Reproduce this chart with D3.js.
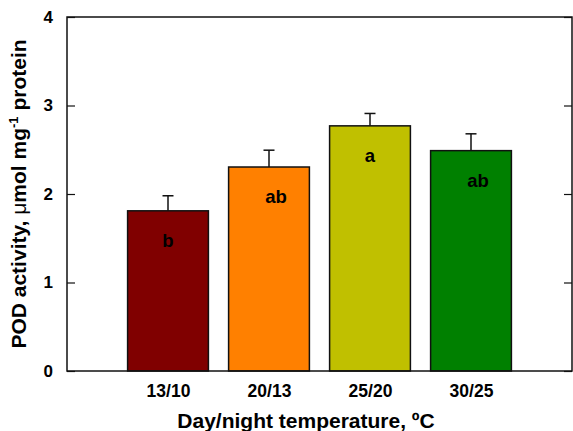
<!DOCTYPE html>
<html>
<head>
<meta charset="utf-8">
<script src="https://cdnjs.cloudflare.com/ajax/libs/d3/7.8.5/d3.min.js"></script>
<style>
  body { margin: 0; background: #fff; }
  svg { font-family: "Liberation Sans", Arial, sans-serif; font-weight: bold; }
</style>
</head>
<body>
<div id="chart"></div>
<script>
// data
var categories = ["13/10", "20/13", "25/20", "30/25"];
var values = [1.81, 2.305, 2.77, 2.49];
var errors = [0.17, 0.19, 0.14, 0.19];
var letters = ["b", "ab", "a", "ab"];
var colors = ["#800000", "#ff8000", "#c0c000", "#008000"];
var yTicks = [0, 1, 2, 3, 4];

var width = 573, height = 431;
var margin = {top: 17, right: 1, bottom: 60, left: 67};

var svg = d3.select("#chart").append("svg")
    .attr("width", width)
    .attr("height", height);

var x = d3.scaleLinear().domain([0, 5]).range([margin.left, width - margin.right]);
var y = d3.scaleLinear().domain([0, 4]).range([height - margin.bottom, margin.top]);
var slot = x(1) - x(0);
var bw = slot * 0.8;

// bars
svg.selectAll("rect.bar")
  .data(values)
  .join("rect")
    .attr("class", "bar")
    .attr("x", function(d, i) { return x(i + 1) - bw / 2; })
    .attr("y", function(d) { return y(d); })
    .attr("width", bw)
    .attr("height", function(d) { return y(0) - y(d); })
    .attr("fill", function(d, i) { return colors[i]; })
    .attr("stroke", "#111")
    .attr("stroke-width", 1.5);

// error bars (upper only)
var eb = svg.selectAll("g.err").data(values).join("g").attr("class", "err")
    .attr("stroke", "#111").attr("stroke-width", 1.5);
eb.append("line")
    .attr("x1", function(d, i) { return x(i + 1); })
    .attr("x2", function(d, i) { return x(i + 1); })
    .attr("y1", function(d) { return y(d); })
    .attr("y2", function(d, i) { return y(d + errors[i]); });
eb.append("line")
    .attr("x1", function(d, i) { return x(i + 1) - 5.5; })
    .attr("x2", function(d, i) { return x(i + 1) + 5.5; })
    .attr("y1", function(d, i) { return y(d + errors[i]); })
    .attr("y2", function(d, i) { return y(d + errors[i]); });

// significance letters
svg.selectAll("text.letter")
  .data(letters)
  .join("text")
    .attr("class", "letter")
    .attr("x", function(d, i) { return x(i + 1) + (d.length > 1 ? 7 : 0); })
    .attr("y", function(d, i) { return y(values[i]) + 36; })
    .attr("text-anchor", "middle")
    .attr("font-size", 18.5)
    .attr("fill", "#000")
    .text(function(d) { return d; });

// frame
svg.append("rect")
    .attr("x", x(0)).attr("y", y(4))
    .attr("width", x(5) - x(0)).attr("height", y(0) - y(4))
    .attr("fill", "none").attr("stroke", "#111").attr("stroke-width", 1.5);

// left axis
var yAxis = svg.append("g")
    .attr("transform", "translate(" + x(0) + ",0)")
    .call(d3.axisLeft(y).tickValues(yTicks).tickFormat(d3.format("d")).tickSize(-8).tickPadding(14));
yAxis.select(".domain").remove();
yAxis.selectAll("line").attr("stroke", "#111").attr("stroke-width", 1.2);
yAxis.selectAll("text").attr("font-size", 17).attr("font-family", null).attr("fill", "#000");

// right axis ticks (inward)
var yAxisR = svg.append("g")
    .attr("transform", "translate(" + x(5) + ",0)")
    .call(d3.axisRight(y).tickValues(yTicks).tickFormat("").tickSize(-8));
yAxisR.select(".domain").remove();
yAxisR.selectAll("line").attr("stroke", "#111").attr("stroke-width", 1.2);

// bottom axis labels
var xAxis = svg.append("g")
    .attr("transform", "translate(0," + y(0) + ")")
    .call(d3.axisBottom(x).tickValues([1, 2, 3, 4])
      .tickFormat(function(d) { return categories[d - 1]; }).tickSize(0).tickPadding(14));
xAxis.select(".domain").remove();
xAxis.selectAll("text").attr("font-size", 17.5).attr("font-family", null).attr("fill", "#000");

// axis titles
svg.append("text")
    .attr("x", 306).attr("y", 428)
    .attr("text-anchor", "middle")
    .attr("font-size", 21)
    .text("Day/night temperature, ºC");

var yt = svg.append("text")
    .attr("transform", "translate(26," + (margin.top + (y(0) - y(4)) / 2) + ") rotate(-90)")
    .attr("text-anchor", "middle")
    .attr("font-size", 21);
yt.append("tspan").text("POD activity, ");
yt.append("tspan").attr("font-weight", "normal").text("μ");
yt.append("tspan").text("mol mg");
yt.append("tspan").attr("font-size", 13).attr("dy", -8).text("-1");
yt.append("tspan").attr("dy", 8).text(" protein");
</script>
</body>
</html>
